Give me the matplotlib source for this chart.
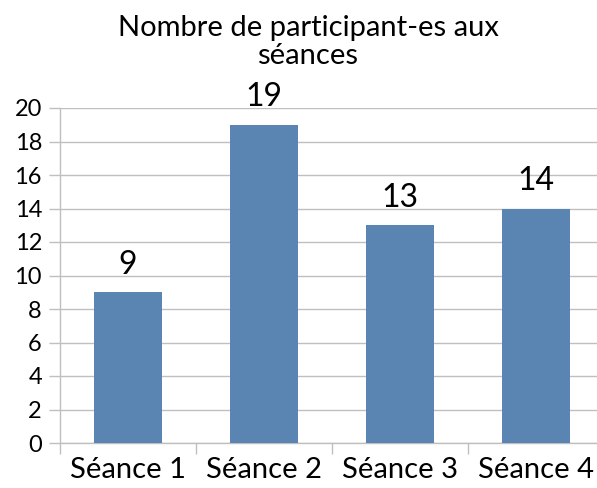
import matplotlib
matplotlib.use("Agg")
import matplotlib.pyplot as plt
import numpy as np

categories = ["Séance 1", "Séance 2", "Séance 3", "Séance 4"]
values = [9, 19, 13, 14]
yticks = [0, 2, 4, 6, 8, 10, 12, 14, 16, 18, 20]
title = "Nombre de participant-es aux\nséances"

plt.rcParams['font.family'] = ['Lato', 'DejaVu Sans']

fig = plt.figure(figsize=(5.97, 4.88), dpi=100)
ax = fig.add_axes([60/597, 45/488, 544/597, 335/488])

x = np.arange(len(categories))
bar_color = "#5A84B1"
grid_color = "#BFBFBF"
bars = ax.bar(x, values, width=0.5, color=bar_color, zorder=3)
for xi, v in zip(x, values):
    ax.text(xi, v + 0.75, str(v), ha="center", va="bottom", fontsize=23, color="black")

ax.set_xlim(-0.5, len(categories) - 0.5)
ax.set_ylim(0, 20)
ax.set_yticks(yticks)
ax.set_yticklabels([str(t) for t in yticks])
ax.yaxis.grid(True, color=grid_color, linewidth=1, zorder=0)
ax.set_axisbelow(True)

ax.set_xticks(x)
ax.set_xticklabels(categories, fontsize=21)
ax.set_xticks(np.arange(-0.5, len(categories)), minor=True)
ax.tick_params(axis="x", which="major", length=0, pad=10)
ax.tick_params(axis="x", which="minor", length=8, color=grid_color, width=1)
ax.tick_params(axis="y", length=8, color=grid_color, width=1, labelsize=17, pad=5)

for s in ["top", "right"]:
    ax.spines[s].set_visible(False)
for s in ["left", "bottom"]:
    ax.spines[s].set_color(grid_color)
    ax.spines[s].set_linewidth(1)

fig.text(308/597, 1 - 42/488, title, ha="center", va="center", fontsize=21, linespacing=1.1)

fig.savefig("out.png", dpi=100)
